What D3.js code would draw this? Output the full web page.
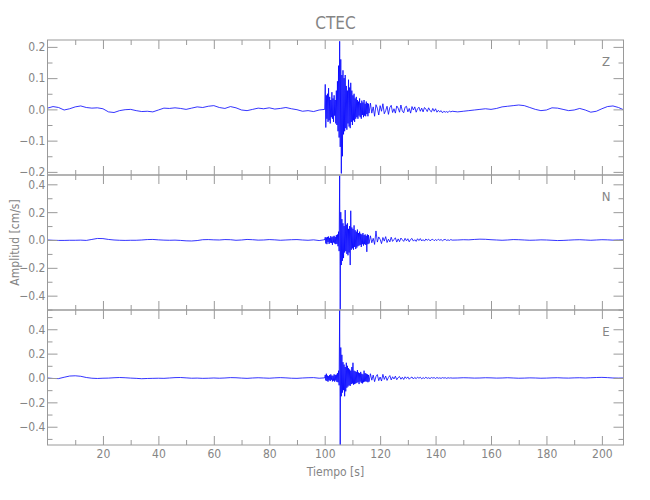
<!DOCTYPE html>
<html>
<head>
<meta charset="utf-8">
<script src="https://cdn.jsdelivr.net/npm/d3@7/dist/d3.min.js"></script>
<style>
  html, body { margin: 0; padding: 0; background: #fff; }
  svg { display: block; }
  text { font-family: "Liberation Sans Narrow", "DejaVu Sans Condensed", "Roboto Condensed", "Liberation Sans", sans-serif; fill: #858585; }
</style>
</head>
<body>
<script>
// ---------------- DATA ----------------
const title = "CTEC";
const xLabel = "Tiempo [s]";
const yLabel = "Amplitud [cm/s]";
const components = ["Z", "N", "E"];

// sample segments: start time (s) and sampling step (s)
const segStart = [0, 100, 116.5, 148];
const segStep = [2, 0.2, 0.5, 2];

// Z component (cm/s)
const zPre = [0.004, 0.009, 0.006, -0.002, 0.002, 0.008, 0.011, 0.006, 0.004, 0.005, 0.002, -0.008, -0.010, -0.004, -0.001, 0.000, -0.004, -0.007, -0.006, -0.008, -0.002, 0.004, 0.003, 0.005, 0.003, 0.000, 0.004, 0.008, 0.006, 0.010, 0.012, 0.006, 0.003, 0.009, 0.005, -0.002, -0.004, 0.000, 0.004, 0.002, 0.005, 0.001, 0.003, 0.006, 0.002, -0.001, -0.006, -0.004, -0.007, -0.002, 0.000];
const zBurst = [0.000, 0.080, -0.058, 0.045, -0.030, 0.050, -0.040, 0.068, -0.035, 0.040, -0.045, 0.030, -0.025, 0.055, -0.030, 0.035, -0.040, 0.045, -0.020, 0.030, -0.045, 0.060, -0.050, 0.090, -0.070, 0.140, -0.090, 0.218, -0.120, 0.160, -0.205, 0.110, -0.150, 0.125, -0.080, 0.100, -0.070, 0.110, -0.060, 0.075, -0.065, 0.060, -0.045, 0.095, -0.055, 0.070, -0.060, 0.085, -0.040, 0.060, -0.050, 0.045, -0.035, 0.050, -0.040, 0.035, -0.030, 0.040, -0.025, 0.030, -0.030, 0.025, -0.020, 0.035, -0.025, 0.020, -0.030, 0.028, -0.018, 0.022, -0.025, 0.030, -0.020, 0.018, -0.022, 0.025, -0.015, 0.020, -0.022, 0.018, -0.012];
const zCoda = [0.020, -0.012, 0.008, -0.022, 0.015, 0.004, -0.018, 0.012, -0.006, 0.018, -0.014, -0.004, 0.010, -0.016, 0.006, 0.013, -0.010, 0.002, -0.012, 0.011, 0.004, -0.009, 0.014, -0.005, -0.011, 0.007, 0.010, -0.008, 0.003, -0.012, 0.009, -0.002, 0.008, -0.009, 0.002, 0.007, -0.006, 0.004, -0.008, 0.006, 0.001, -0.007, 0.005, -0.004, -0.008, 0.003, -0.006, 0.002, -0.009, -0.003, -0.008, -0.004, -0.011, -0.006, -0.009, -0.007, -0.010, -0.005, -0.008, -0.006];
const zPost = [-0.008, -0.006, -0.004, -0.002, 0.000, 0.002, 0.000, 0.003, 0.008, 0.010, 0.012, 0.014, 0.012, 0.006, 0.000, -0.004, -0.002, 0.005, 0.004, 0.000, -0.004, -0.002, 0.003, -0.002, -0.009, -0.006, 0.002, 0.009, 0.011, 0.006, -0.002];

// N component (cm/s)
const nPre = [0.000, -0.002, -0.003, -0.003, -0.002, -0.002, -0.001, -0.003, 0.004, 0.011, 0.010, 0.004, 0.000, -0.002, -0.003, -0.002, -0.002, 0.000, 0.003, 0.004, 0.001, -0.001, -0.002, -0.001, -0.003, -0.006, -0.007, -0.004, 0.002, 0.003, 0.001, 0.000, 0.003, 0.002, -0.002, 0.000, 0.004, 0.002, -0.001, 0.000, 0.003, 0.001, -0.002, 0.000, 0.002, 0.003, 0.000, -0.002, 0.001, -0.004, 0.002];
const nBurst = [0.000, 0.020, -0.025, 0.018, -0.030, 0.022, -0.015, 0.025, -0.028, 0.015, -0.020, 0.028, -0.022, 0.020, -0.035, 0.025, -0.018, 0.030, -0.025, 0.022, -0.030, 0.035, -0.028, 0.040, -0.045, 0.060, -0.080, 0.462, -0.500, 0.200, -0.180, 0.150, -0.150, 0.120, -0.130, 0.100, -0.090, 0.215, -0.080, 0.110, -0.100, 0.120, -0.110, 0.080, -0.090, 0.100, -0.180, 0.210, -0.070, 0.090, -0.060, 0.080, -0.070, 0.105, -0.050, 0.070, -0.065, 0.060, -0.055, 0.075, -0.045, 0.050, -0.040, 0.060, -0.035, 0.045, -0.050, 0.040, -0.030, 0.050, -0.040, 0.035, -0.030, 0.040, -0.035, 0.030, -0.085, 0.040, -0.030, 0.035, -0.025];
const nCoda = [0.030, -0.020, 0.012, -0.032, 0.065, -0.015, 0.022, 0.005, -0.026, 0.018, -0.008, 0.024, -0.018, 0.006, -0.014, 0.020, -0.010, 0.003, 0.016, -0.015, 0.008, -0.012, 0.014, 0.002, -0.010, 0.012, -0.006, 0.009, -0.013, 0.004, 0.011, -0.008, 0.002, -0.010, 0.009, -0.004, 0.010, -0.007, 0.003, -0.008, 0.007, -0.002, 0.006, -0.006, 0.002, 0.005, -0.005, 0.003, -0.004, 0.006, -0.002, 0.003, -0.005, 0.002, 0.004, -0.003, 0.001, -0.003, 0.003, -0.001];
const nPost = [0.000, 0.002, 0.001, 0.004, 0.006, 0.005, 0.002, 0.000, -0.002, 0.000, 0.003, 0.002, 0.000, -0.002, -0.001, 0.001, 0.000, -0.002, -0.004, -0.003, -0.001, 0.001, 0.002, 0.000, -0.002, 0.000, 0.002, 0.001, -0.001, 0.000, 0.001];

// E component (cm/s)
const ePre = [0.000, -0.004, -0.005, 0.006, 0.016, 0.018, 0.014, 0.004, -0.002, -0.004, -0.002, -0.001, 0.002, 0.004, 0.002, -0.001, -0.003, -0.006, -0.004, -0.003, -0.002, -0.003, 0.000, 0.003, 0.004, 0.001, -0.002, -0.001, -0.003, -0.002, 0.000, -0.002, 0.000, 0.003, 0.002, -0.001, -0.003, 0.000, 0.002, 0.000, -0.002, 0.001, 0.003, 0.001, -0.002, -0.003, 0.000, 0.002, 0.003, -0.002, 0.001];
const eBurst = [0.000, 0.025, -0.020, 0.035, -0.025, 0.020, -0.030, 0.015, -0.018, 0.025, -0.025, 0.030, -0.015, 0.020, -0.028, 0.018, -0.022, 0.030, -0.030, 0.025, -0.020, 0.028, -0.032, 0.040, -0.035, 0.060, -0.060, 0.555, -0.548, 0.250, -0.150, 0.190, -0.120, 0.130, -0.100, 0.110, -0.150, 0.090, -0.110, 0.125, -0.080, 0.100, -0.070, 0.080, -0.060, 0.070, -0.065, 0.060, -0.050, 0.090, -0.045, 0.125, -0.055, 0.060, -0.050, 0.055, -0.045, 0.050, -0.040, 0.065, -0.035, 0.045, -0.050, 0.040, -0.030, 0.050, -0.040, 0.035, -0.045, 0.030, -0.035, 0.060, -0.030, 0.040, -0.028, 0.035, -0.030, 0.030, -0.035, 0.025, -0.030];
const eCoda = [0.035, -0.018, 0.024, -0.030, 0.012, 0.028, -0.022, 0.008, -0.025, 0.030, -0.012, 0.016, -0.020, 0.004, 0.020, -0.016, 0.010, -0.008, 0.015, -0.014, 0.003, 0.012, -0.010, 0.006, -0.012, 0.010, -0.004, 0.009, -0.010, 0.002, 0.008, -0.008, 0.005, -0.006, 0.007, -0.002, 0.006, -0.007, 0.003, -0.004, 0.006, -0.003, 0.002, -0.005, 0.004, -0.001, 0.003, -0.004, 0.004, -0.002, 0.001, -0.003, 0.003, -0.001, 0.002, -0.003, 0.002, -0.001, 0.001, -0.001];
const ePost = [0.000, 0.002, 0.001, -0.001, 0.000, 0.002, 0.001, -0.001, 0.000, 0.002, 0.000, -0.002, -0.001, 0.001, 0.000, -0.002, -0.001, 0.001, 0.002, 0.000, -0.001, 0.001, 0.002, 0.000, 0.002, 0.004, 0.005, 0.003, 0.000, -0.001, 0.000];

// axis ranges and tick values
const xDomain = [0, 207.8];
const xMajorTicks = [20, 40, 60, 80, 100, 120, 140, 160, 180, 200];
const xMinorTicks = [10, 30, 50, 70, 90, 110, 130, 150, 170, 190];
const yDomains = [[-0.21, 0.222], [-0.503, 0.467], [-0.55, 0.558]];
const yMajorTicks = [[-0.2, -0.1, 0.0, 0.1, 0.2], [-0.4, -0.2, 0.0, 0.2, 0.4], [-0.4, -0.2, 0.0, 0.2, 0.4]];
const yMinorTicks = [[-0.15, -0.05, 0.05, 0.15], [-0.5, -0.3, -0.1, 0.1, 0.3], [-0.5, -0.3, -0.1, 0.1, 0.3, 0.5]];

// ---------------- CHART ----------------
const W = 650, H = 500;
const plotL = 47.5, plotR = 623.5, plotT = 40, panelH = 135;
const axisColor = "#9a9a9a";
const textColor = "#858585";

function buildTrace(segs) {
  const pts = [];
  segs.forEach((vals, s) => {
    vals.forEach((v, i) => pts.push([segStart[s] + i * segStep[s], v]));
  });
  return pts;
}
const traces = [
  buildTrace([zPre, zBurst, zCoda, zPost]),
  buildTrace([nPre, nBurst, nCoda, nPost]),
  buildTrace([ePre, eBurst, eCoda, ePost])
];

const svg = d3.select("body").append("svg").attr("width", W).attr("height", H);

const x = d3.scaleLinear().domain(xDomain).range([plotL, plotR]);

svg.append("text").attr("x", (plotL + plotR) / 2).attr("y", 29)
  .attr("text-anchor", "middle").style("font-size", "17px").text(title);

components.forEach((comp, p) => {
  const y0 = plotT + p * panelH, y1 = y0 + panelH;
  const y = d3.scaleLinear().domain(yDomains[p]).range([y1, y0]);
  const g = svg.append("g");

  g.append("clipPath").attr("id", "clip" + p)
    .append("rect").attr("x", plotL).attr("y", y0).attr("width", plotR - plotL).attr("height", panelH);

  const line = d3.line().x(d => x(d[0])).y(d => y(d[1]));
  g.append("path").datum(traces[p])
    .attr("clip-path", `url(#clip${p})`)
    .attr("fill", "none").attr("stroke", "#0000ff").attr("stroke-width", 0.8)
    .attr("stroke-linejoin", "round")
    .attr("d", line);

  // frame
  g.append("rect").attr("x", plotL).attr("y", y0).attr("width", plotR - plotL).attr("height", panelH)
    .attr("fill", "none").attr("stroke", axisColor).attr("stroke-width", 1);

  const fmt = d3.format(".1f");
  const styleAxis = sel => {
    sel.select(".domain").remove();
    sel.selectAll("line").attr("stroke", axisColor);
    sel.selectAll("text").attr("fill", textColor).style("font-size", "12px").attr("font-family", null);
  };

  // left axis
  g.append("g").attr("transform", `translate(${plotL},0)`)
    .call(d3.axisLeft(y).tickValues(yMajorTicks[p]).tickSize(-10).tickSizeOuter(0).tickPadding(2).tickFormat(fmt))
    .call(styleAxis);
  g.append("g").attr("transform", `translate(${plotL},0)`)
    .call(d3.axisLeft(y).tickValues(yMinorTicks[p]).tickSize(-5).tickSizeOuter(0).tickFormat(""))
    .call(styleAxis);
  // right axis
  g.append("g").attr("transform", `translate(${plotR},0)`)
    .call(d3.axisRight(y).tickValues(yMajorTicks[p]).tickSize(-10).tickSizeOuter(0).tickFormat(""))
    .call(styleAxis);
  g.append("g").attr("transform", `translate(${plotR},0)`)
    .call(d3.axisRight(y).tickValues(yMinorTicks[p]).tickSize(-5).tickSizeOuter(0).tickFormat(""))
    .call(styleAxis);
  // top axis
  g.append("g").attr("transform", `translate(0,${y0})`)
    .call(d3.axisTop(x).tickValues(xMajorTicks).tickSize(-9).tickSizeOuter(0).tickFormat(""))
    .call(styleAxis);
  g.append("g").attr("transform", `translate(0,${y0})`)
    .call(d3.axisTop(x).tickValues(xMinorTicks).tickSize(-5).tickSizeOuter(0).tickFormat(""))
    .call(styleAxis);
  // bottom axis
  const last = p === components.length - 1;
  g.append("g").attr("transform", `translate(0,${y1})`)
    .call(d3.axisBottom(x).tickValues(xMajorTicks).tickSize(-9).tickSizeOuter(0).tickPadding(4)
      .tickFormat(last ? d3.format("d") : ""))
    .call(styleAxis);
  g.append("g").attr("transform", `translate(0,${y1})`)
    .call(d3.axisBottom(x).tickValues(xMinorTicks).tickSize(-5).tickSizeOuter(0).tickFormat(""))
    .call(styleAxis);

  // component label
  g.append("text").attr("x", 606).attr("y", y0 + 26).attr("text-anchor", "middle")
    .style("font-size", "13px").text(comp);
});

svg.append("text").attr("transform", `translate(19,${plotT + 1.5 * panelH}) rotate(-90)`)
  .attr("text-anchor", "middle").style("font-size", "12px").text(yLabel);

svg.append("text").attr("x", (plotL + plotR) / 2).attr("y", 476)
  .attr("text-anchor", "middle").style("font-size", "12px").text(xLabel);
</script>
</body>
</html>
